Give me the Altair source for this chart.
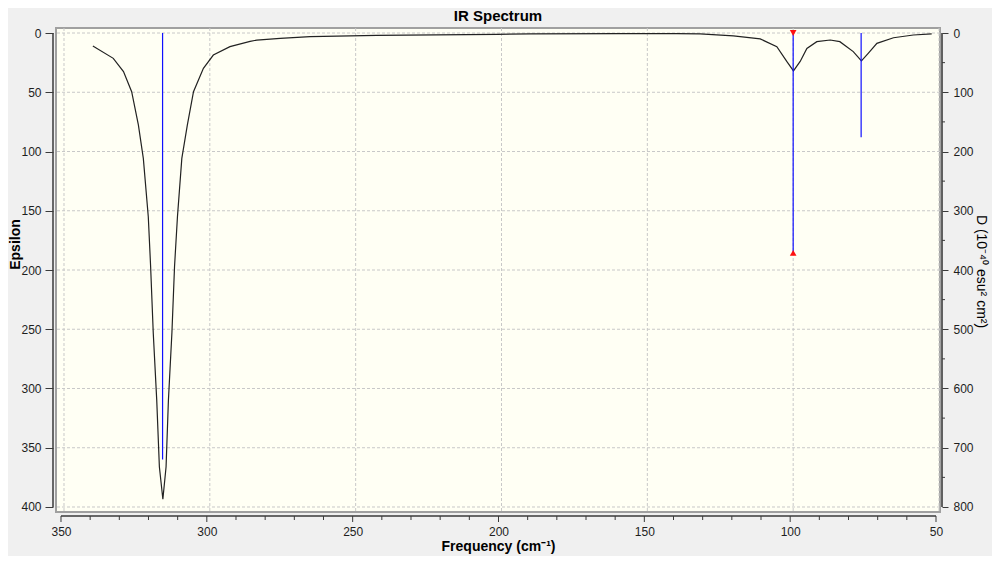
import altair as alt
import pandas as pd

# ---- data ----
freq = [340.1, 333.1, 329.6, 326.8, 324.5, 322.8, 321.1, 320.3, 319.4, 318.2, 317.3, 316.1,
        315.0, 314.2, 313.0, 312.1, 311.1, 309.6, 307.7, 305.6, 302.2, 298.8, 293.1, 286.2,
        283.9, 275.9, 265.6, 242.8, 201.6, 190.2, 160.0, 140.0, 131.9, 120.5, 111.3, 105.6,
        102.2, 99.9, 97.6, 95.3, 91.9, 87.3, 84.0, 79.4, 76.6, 74.2, 71.3, 65.6, 58.8, 52.5]
epsilon = [11.0, 21.4, 32.6, 49.5, 77.6, 105.8, 155.0, 197.0, 253.0, 310.0, 366.0, 393.5,
           366.0, 310.0, 253.0, 197.0, 155.0, 105.8, 77.6, 49.5, 29.8, 18.6, 11.5, 7.0,
           6.0, 4.5, 3.1, 2.0, 1.1, 0.8, 0.5, 0.6, 0.8, 2.5, 5.0, 11.5,
           24.0, 32.0, 24.0, 13.0, 7.3, 5.9, 7.3, 15.7, 23.6, 17.0, 8.7, 4.0, 1.7, 0.8]

stick_freq = [316.2, 100.0, 76.7]
stick_D = [720, 371, 176]

selected_freq = [100.0]
selected_D = [371]

x_major = [350, 300, 250, 200, 150, 100, 50]
x_minor = [v for v in range(340, 50, -10) if v % 50 != 0]
eps_major = [0, 50, 100, 150, 200, 250, 300, 350, 400]
d_major = [0, 100, 200, 300, 400, 500, 600, 700, 800]
d_minor = [50, 150, 250, 350, 450, 550, 650, 750]

curve_df = pd.DataFrame({"freq": freq, "eps": epsilon})
stick_df = pd.DataFrame({"freq": stick_freq, "D": stick_D})
sel_df = pd.DataFrame({"freq": selected_freq, "D": selected_D})
xmaj_df = pd.DataFrame({"v": x_major})
xmin_df = pd.DataFrame({"v": x_minor})
eps_df = pd.DataFrame({"v": eps_major})
dmin_df = pd.DataFrame({"v": d_minor})
one_df = pd.DataFrame({"a": [0], "b": [400], "c": [800], "p": [350], "q": [50]})

W, H = 884, 484
FONT = "Liberation Sans"
AX = "#3a3a3a"


def xs():
    return alt.Scale(domain=[49.66, 352.74], reverse=True, nice=False, zero=False)


def ys():
    return alt.Scale(domain=[-4.22, 404.22], reverse=True, nice=False, zero=False)


def ds():
    return alt.Scale(domain=[-8.44, 808.44], reverse=True, nice=False, zero=False)


x_axis = alt.Axis(values=x_major, title="Frequency (cm⁻¹)", orient="bottom", offset=4,
                  ticks=False, labelOffset=-3, domain=False, grid=False, labelFlush=False,
                  labelFont=FONT, labelFontSize=12, labelColor="#1e1e1e", labelPadding=10,
                  titleFont=FONT, titleFontSize=14, titleFontWeight="bold",
                  titleColor="#000000", titlePadding=2, zindex=2)
left_axis = alt.Axis(values=eps_major, title="Epsilon", orient="left", offset=3, tickSize=8,
                     domain=False, grid=False, labelFont=FONT, labelFontSize=12,
                     labelColor="#1e1e1e", labelPadding=4, tickColor=AX, titleFont=FONT,
                     titleFontSize=14, titleFontWeight="bold", titleColor="#000000",
                     titleX=-38, titleY=216, titleAngle=270, titleAlign="center",
                     titleBaseline="middle", zindex=2)
right_axis = alt.Axis(values=d_major, title="D (10⁻⁴⁰ esu² cm²)", orient="right", offset=2,
                      tickSize=6, domain=False, grid=False, labelFont=FONT, labelFontSize=12,
                      labelColor="#1e1e1e", labelPadding=5, tickColor=AX, titleFont=FONT,
                      titleFontSize=14, titleFontWeight="normal", titleColor="#000000",
                      titleX=38, titleY=243, titleAngle=90, titleAlign="center",
                      titleBaseline="middle", zindex=2)


def X(field):
    return alt.X(field, scale=xs(), axis=x_axis)


grid_style = dict(color="#c8c8c8", strokeWidth=1, strokeDash=[3, 2])

vgrid = alt.Chart(xmaj_df).mark_rule(**grid_style).encode(x=X("v:Q"))
hgrid = alt.Chart(eps_df).mark_rule(**grid_style).encode(
    y=alt.Y("v:Q", scale=ys(), axis=None))

curve = alt.Chart(curve_df).mark_line(color="#222222", strokeWidth=1.2).encode(
    x=X("freq:Q"),
    y=alt.Y("eps:Q", scale=ys(), axis=left_axis))

left_domain = alt.Chart(one_df).mark_rule(color=AX, strokeWidth=1.5).encode(
    x=alt.value(-3), y=alt.Y("a:Q", scale=ys(), axis=None), y2="b:Q")
bottom_domain = alt.Chart(one_df).mark_rule(color=AX, strokeWidth=1.5, xOffset=-3, x2Offset=-3).encode(
    x=X("p:Q"), x2="q:Q", y=alt.value(H + 4))
x_major_ticks = alt.Chart(xmaj_df).mark_rule(color=AX, strokeWidth=1, xOffset=-3).encode(
    x=X("v:Q"), y=alt.value(H + 4), y2=alt.value(H + 10))
x_minor_ticks = alt.Chart(xmin_df).mark_rule(color=AX, strokeWidth=1, xOffset=-3).encode(
    x=X("v:Q"), y=alt.value(H + 4), y2=alt.value(H + 8))

sticks = alt.Chart(stick_df).transform_calculate(zero="0").mark_rule(
    color="#1010ff", strokeWidth=1.2).encode(
    x=X("freq:Q"),
    y=alt.Y("D:Q", scale=ds(), axis=right_axis),
    y2="zero:Q")
right_domain = alt.Chart(one_df).mark_rule(color="#606060", strokeWidth=2).encode(
    x=alt.value(W + 2), y=alt.Y("a:Q", scale=ds(), axis=None), y2="c:Q")
d_minor_ticks = alt.Chart(dmin_df).mark_rule(color=AX, strokeWidth=1).encode(
    x=alt.value(W + 2), x2=alt.value(W + 5), y=alt.Y("v:Q", scale=ds(), axis=None))
tri_top = alt.Chart(sel_df).transform_calculate(zero="0").mark_point(
    shape="triangle-down", filled=True, color="#ff1010", size=45, opacity=1).encode(
    x=X("freq:Q"), y=alt.Y("zero:Q", scale=ds(), axis=None))
tri_bot = alt.Chart(sel_df).mark_point(
    shape="triangle-up", filled=True, color="#ff1010", size=45, opacity=1).encode(
    x=X("freq:Q"), y=alt.Y("D:Q", scale=ds(), axis=None))

chart = alt.layer(
    vgrid, hgrid, curve, left_domain, bottom_domain, x_major_ticks, x_minor_ticks,
    sticks, right_domain, d_minor_ticks, tri_top, tri_bot
).resolve_scale(y="independent").properties(
    width=W, height=H,
    title=alt.TitleParams("IR Spectrum", font=FONT, fontSize=15, fontWeight="bold",
                          color="#000000", anchor="middle", frame="group", offset=3),
    autosize=alt.AutoSizeParams(type="none"),
    padding={"left": 48, "top": 20, "right": 52, "bottom": 44},
    background="#f0f0f0",
).configure_view(fill="#fffff4", stroke="#a0a0a0", strokeWidth=2)

chart.save("out.html", embed_options={"renderer": "svg", "actions": False})
